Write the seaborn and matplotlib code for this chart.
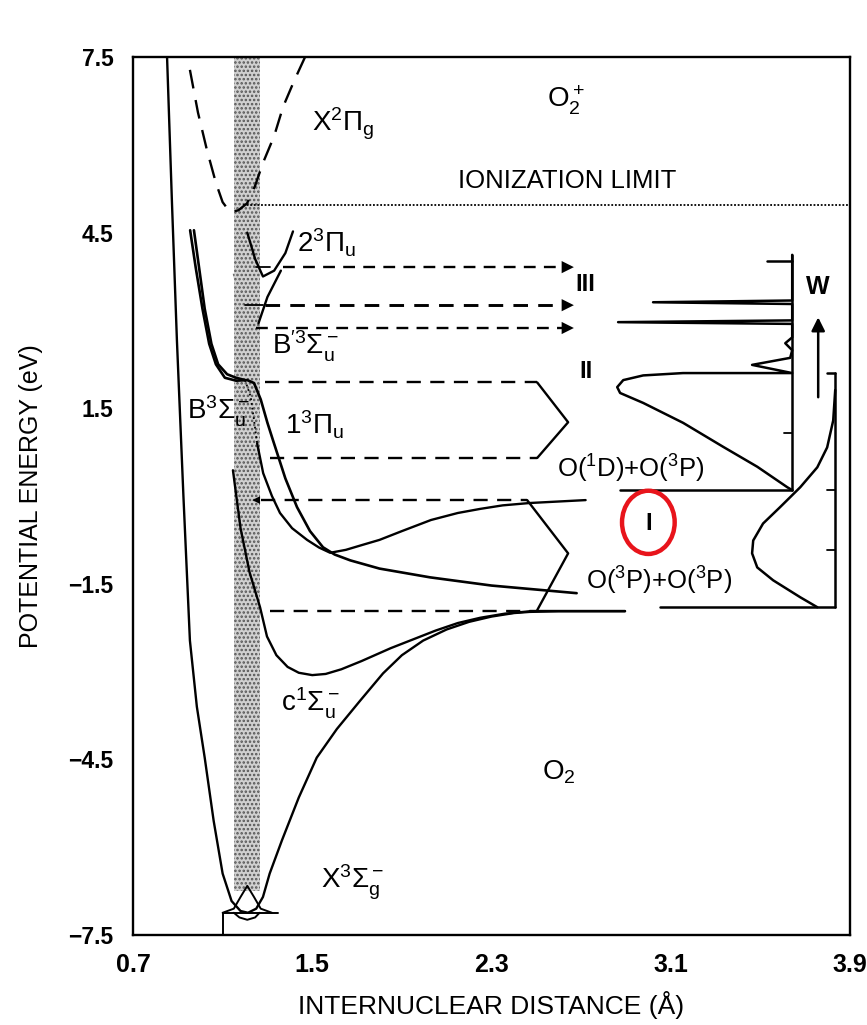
import matplotlib
matplotlib.use("Agg")
import matplotlib.pyplot as plt
from matplotlib.patches import Ellipse, Polygon
import seaborn as sns
import pandas as pd

# ---- potential curves (internuclear distance in Å, energy in eV) ----
x3sg_r = [0.852, 0.874, 0.896, 0.925, 0.954, 0.985, 1.02, 1.06, 1.10, 1.14, 1.18, 1.213,
          1.25, 1.28, 1.31, 1.365, 1.44, 1.52, 1.61, 1.713, 1.816, 1.90, 1.995, 2.10,
          2.20, 2.30, 2.40, 2.47, 2.60, 2.896]
x3sg_e = [7.5, 5.0, 2.66, 0.0, -2.47, -3.6, -4.47, -5.55, -6.45, -6.92, -7.09, -7.12,
          -7.05, -6.85, -6.45, -5.88, -5.15, -4.47, -3.98, -3.5, -3.03, -2.72, -2.47, -2.28,
          -2.15, -2.06, -2.0, -1.98, -1.97, -1.97]

c1su_r = [1.146, 1.18, 1.22, 1.267, 1.298, 1.34, 1.39, 1.44, 1.50, 1.56, 1.63, 1.72, 1.85,
          1.95, 2.05, 2.15, 2.25, 2.36, 2.47]
c1su_e = [0.44, -0.55, -1.3, -1.90, -2.40, -2.72, -2.92, -3.02, -3.06, -3.04, -2.96, -2.82,
          -2.6, -2.45, -2.3, -2.17, -2.08, -2.01, -1.97]

p13_r = [0.955, 0.98, 1.01, 1.04, 1.07, 1.11, 1.16, 1.21, 1.24, 1.27, 1.30, 1.325, 1.38, 1.432,
         1.49, 1.548, 1.60, 1.67, 1.80, 2.026, 2.30, 2.68]
p13_e = [4.54, 3.9, 3.2, 2.6, 2.25, 2.02, 1.97, 1.98, 1.93, 1.65, 1.25, 0.95, 0.30, -0.19,
         -0.60, -0.876, -1.0, -1.10, -1.24, -1.39, -1.53, -1.66]

bsu_in_r = [0.972, 0.995, 1.02, 1.05, 1.08, 1.12, 1.16, 1.20]
bsu_in_e = [4.54, 3.9, 3.2, 2.6, 2.25, 2.08, 2.02, 1.98]
bsu_dot_r = [1.20, 1.225, 1.24, 1.254]
bsu_dot_e = [1.98, 1.7, 1.3, 0.90]
bsu_r = [1.254, 1.281, 1.32, 1.356, 1.41, 1.477, 1.53, 1.58, 1.65, 1.72, 1.80, 1.90, 2.03,
         2.15, 2.25, 2.35, 2.47, 2.72]
bsu_e = [0.90, 0.39, -0.0, -0.29, -0.55, -0.75, -0.88, -0.97, -0.92, -0.84, -0.75, -0.6,
         -0.41, -0.29, -0.22, -0.16, -0.12, -0.07]

x2pg_r = [0.954, 0.99, 1.03, 1.07, 1.10, 1.133, 1.17, 1.209, 1.245, 1.28, 1.33, 1.37, 1.42, 1.468]
x2pg_e = [7.28, 6.55, 5.91, 5.35, 5.02, 4.85, 4.88, 5.0, 5.3, 5.69, 6.15, 6.65, 7.1, 7.5]

p23_r = [1.21, 1.245, 1.28, 1.33, 1.38, 1.414]
p23_e = [4.50, 4.05, 3.75, 3.85, 4.15, 4.52]

bp_r = [1.145, 1.19, 1.22, 1.26, 1.30, 1.36]
bp_e = [3.80, 3.10, 2.55, 2.95, 3.40, 3.85]

# ground vibrational level and its probability density
v0_r = [1.10, 1.15, 1.18, 1.21, 1.24, 1.27, 1.32]
v0_e = [-7.12, -7.05, -6.85, -6.66, -6.85, -7.05, -7.12]

# ---- energy levels ----
ion_limit = 4.97
lim_3p3p = -1.97
lim_1d3p = -0.07

# excitation arrows toward channel III
arrow_y = [3.91, 3.26, 2.87]
arrow_x0 = [1.37, 1.29, 1.25]
arrow_x1 = 2.68

# ---- kinetic-energy spectra on the right ----
spec2_x = [3.642, 3.620, 3.486, 3.334, 3.155, 2.977, 2.874, 2.861, 2.888, 2.977, 3.155, 3.642,
           3.463, 3.633, 3.642, 3.611, 3.642, 3.642, 2.865, 3.642, 3.642, 3.021, 3.642, 3.642]
spec2_y = [0.10, 0.15, 0.50, 0.84, 1.25, 1.59, 1.76, 1.86, 1.98, 2.06, 2.10, 2.10,
           2.24, 2.36, 2.49, 2.61, 2.71, 2.94, 2.97, 3.00, 3.28, 3.31, 3.34, 4.12]
spec1_x = [3.754, 3.678, 3.557, 3.486, 3.463, 3.468, 3.512, 3.588, 3.678, 3.754, 3.798, 3.825, 3.834]
spec1_y = [-1.90, -1.73, -1.44, -1.22, -0.98, -0.76, -0.47, -0.19, 0.15, 0.49, 0.83, 1.29, 1.81]

y_ticks = [-7.5, -6.0, -4.5, -3.0, -1.5, 0.0, 1.5, 3.0, 4.5, 6.0, 7.5]
y_labels = ["−7.5", "", "−4.5", "", "−1.5", "", "1.5", "", "4.5", "", "7.5"]
x_ticks = [0.7, 1.1, 1.5, 1.9, 2.3, 2.7, 3.1, 3.5, 3.9]
x_labels = ["0.7", "", "1.5", "", "2.3", "", "3.1", "", "3.9"]

sns.set_theme(style="white")
plt.rcParams["font.family"] = ["Liberation Sans", "DejaVu Sans"]
plt.rcParams["mathtext.fontset"] = "custom"
plt.rcParams["mathtext.rm"] = "Liberation Sans"
plt.rcParams["mathtext.it"] = "Liberation Sans"
plt.rcParams["mathtext.default"] = "regular"
plt.rcParams["hatch.color"] = "#444444"
plt.rcParams["hatch.linewidth"] = 1.2
for key in ["text.color", "axes.labelcolor", "xtick.color", "ytick.color"]:
    plt.rcParams[key] = "black"

fig = plt.figure(figsize=(8.67, 10.25), dpi=100)
ax = fig.add_axes([0.1534, 0.0878, 0.8270, 0.8566])
ax.set_xlim(0.7, 3.9)
ax.set_ylim(-7.5, 7.5)

K = "black"


def curve(xs, ys, lw=1.7, ls="-", **kw):
    df = pd.DataFrame({"r": xs, "e": ys})
    sns.lineplot(data=df, x="r", y="e", sort=False, estimator=None, color=K,
                 linewidth=lw, linestyle=ls, ax=ax, **kw)


# Franck-Condon region
ax.fill_betweenx([-6.75, 7.5], 1.151, 1.267, facecolor="#d0d0d0", hatch="....",
                 edgecolor="#555555", linewidth=0, zorder=1)
ax.add_patch(Polygon([(1.145, 3.80), (1.27, 3.80), (1.22, 2.55)], closed=True,
                     facecolor="#d0d0d0", hatch="....", edgecolor="#555555",
                     linewidth=0, zorder=1))

# potential curves
curve(x3sg_r, x3sg_e)
curve(c1su_r, c1su_e)
curve(p13_r, p13_e, lw=1.9)
curve(bsu_in_r, bsu_in_e, lw=1.9)
curve(bsu_dot_r, bsu_dot_e, lw=1.3, ls=":")
curve(bsu_r, bsu_e)
curve(x2pg_r, x2pg_e, lw=1.7, ls=(0, (8, 5)))
curve(p23_r, p23_e)
curve(bp_r[3:], bp_e[3:])

# vibrational level of the ground state
curve(v0_r, v0_e, lw=1.4)
curve([1.10, 1.345], [-7.12, -7.12], lw=1.4)
curve([1.10, 1.10], [-7.5, -7.12], lw=1.4)
curve([1.15, 1.175, 1.21, 1.245, 1.265], [-7.12, -7.2, -7.24, -7.2, -7.12], lw=1.4)

# ionization limit
curve([1.19, 3.9], [ion_limit, ion_limit], lw=1.3, ls=(0, (1, 1)))

# short levels inside the bound wells
curve([1.25, 1.31], [3.91, 3.91], lw=1.3)
curve([1.20, 1.28], [3.26, 3.26], lw=1.3)

# dashed excitation arrows
for y0, x0 in zip(arrow_y, arrow_x0):
    curve([x0, arrow_x1 - 0.06], [y0, y0], lw=2.1 if 3.0 < y0 < 3.5 else 1.7,
          ls=(0, (5, 3.5)))
    ax.annotate("", xy=(arrow_x1, y0), xytext=(arrow_x1 - 0.07, y0),
                arrowprops=dict(arrowstyle="-|>", color=K, lw=0, mutation_scale=22))

# dissociation limits with dashed projections
curve([1.29, 2.504], [1.94, 1.94], ls=(0, (6, 4)))
curve([1.31, 2.504], [0.65, 0.65], ls=(0, (6, 4)))
curve([1.27, 2.459], [lim_1d3p, lim_1d3p], ls=(0, (6, 4)))
ax.annotate("", xy=(1.22, lim_1d3p), xytext=(1.28, lim_1d3p),
            arrowprops=dict(arrowstyle="-|>", color=K, lw=0, mutation_scale=14))
curve([1.31, 2.47], [lim_3p3p, lim_3p3p], ls=(0, (6, 4)))
curve([2.47, 2.896], [lim_3p3p, lim_3p3p])

# brackets mapping into energy channels
curve([2.504, 2.642, 2.504], [1.94, 1.26, 0.65])
curve([2.459, 2.642, 2.504], [lim_1d3p, -0.98, -1.95])

# channel II/III spectrum
curve(spec2_x, spec2_y, lw=1.8)
curve([2.875, 3.642], [0.10, 0.10], lw=1.8)
curve([3.642, 3.642], [0.10, 4.12], lw=1.8)
curve([3.53, 3.642], [4.01, 4.01], lw=1.8)
curve([3.607, 3.642], [1.07, 1.07], lw=1.3)

# channel I spectrum
curve(spec1_x, spec1_y, lw=1.8)
curve([3.053, 3.834], [-1.90, -1.90], lw=1.8)
curve([3.834, 3.834], [-1.90, 2.10], lw=1.8)
curve([3.798, 3.834], [2.10, 2.10], lw=1.8)
curve([3.798, 3.834], [0.10, 0.10], lw=1.3)
curve([3.798, 3.834], [-0.93, -0.93], lw=1.3)

# increasing W arrow
ax.annotate("", xy=(3.758, 3.10), xytext=(3.758, 1.64),
            arrowprops=dict(arrowstyle="-|>", color=K, lw=1.8, mutation_scale=20))

# text labels
fs = 20
ax.text(1.50, 6.35, r"X$^2\Pi_g$", fontsize=fs, ha="left", va="center")
ax.text(2.63, 6.75, r"O$_2^+$", fontsize=fs, ha="center", va="center")
ax.text(2.64, 5.38, "IONIZATION LIMIT", fontsize=18.5, ha="center", va="center")
ax.text(1.43, 4.33, r"2$^3\Pi_u$", fontsize=fs, ha="left", va="center")
ax.text(2.72, 3.62, "III", fontsize=17, ha="center", va="center", fontweight="bold")
ax.text(1.32, 2.55, r"B$^{\prime 3}\Sigma_u^-$", fontsize=fs, ha="left", va="center")
ax.text(2.72, 2.12, "II", fontsize=17, ha="center", va="center", fontweight="bold")
ax.text(0.94, 1.45, r"B$^3\Sigma_u^-$", fontsize=fs, ha="left", va="center")
ax.text(1.38, 1.22, r"1$^3\Pi_u$", fontsize=fs, ha="left", va="center")
ax.text(2.92, 0.47, r"O($^1$D)+O($^3$P)", fontsize=18.5, ha="center", va="center")
ax.text(3.0, -0.47, "I", fontsize=17, ha="center", va="center", fontweight="bold")
ax.text(3.05, -1.45, r"O($^3$P)+O($^3$P)", fontsize=18.5, ha="center", va="center")
ax.text(1.49, -3.55, r"c$^1\Sigma_u^-$", fontsize=fs, ha="center", va="center")
ax.text(2.6, -4.72, r"O$_2$", fontsize=fs, ha="center", va="center")
ax.text(1.68, -6.6, r"X$^3\Sigma_g^-$", fontsize=fs, ha="center", va="center")
ax.text(3.758, 3.57, "W", fontsize=18, ha="center", va="center", fontweight="bold")

# highlight around channel I
ax.add_patch(Ellipse((3.0, -0.45), 0.235, 1.08, fill=False, edgecolor="#e8141b",
                     linewidth=3.2, zorder=5))

# axes styling
for s in ax.spines.values():
    s.set_visible(True)
    s.set_color(K)
    s.set_linewidth(1.7)
ax.set_xticks(x_ticks)
ax.set_xticklabels(x_labels)
ax.set_yticks(y_ticks)
ax.set_yticklabels(y_labels)
ax.tick_params(axis="both", direction="in", length=18, width=1.5, color=K,
               labelcolor=K)
ax.tick_params(axis="x", pad=13, labelsize=18)
ax.tick_params(axis="y", pad=14, labelsize=16.5)
for lab in ax.get_xticklabels() + ax.get_yticklabels():
    lab.set_fontweight("bold")
ax.set_xlabel("INTERNUCLEAR DISTANCE (Å)", fontsize=19, labelpad=10, color=K)
ax.set_ylabel("POTENTIAL ENERGY (eV)", fontsize=18, labelpad=18, color=K)
ax.grid(False)

fig.savefig("out.png", dpi=100, facecolor="white")
